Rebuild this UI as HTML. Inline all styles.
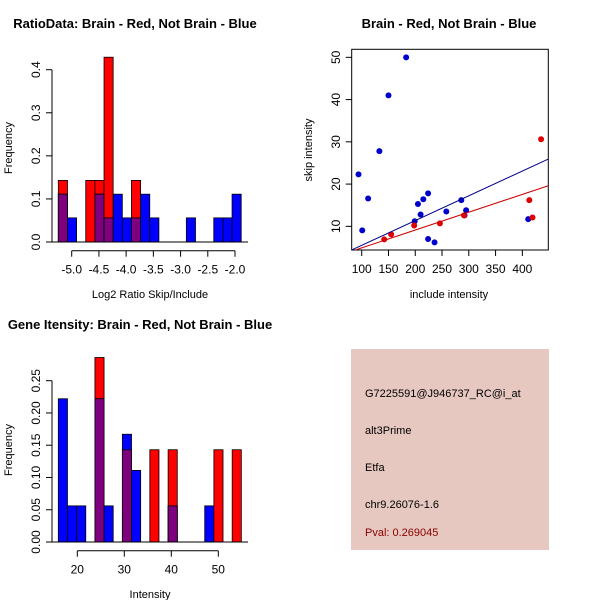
<!DOCTYPE html>
<html><head><meta charset="utf-8"><style>
html,body{margin:0;padding:0;background:#fff;}
svg{display:block;font-family:"Liberation Sans",sans-serif;}
</style></head><body>
<svg id="c" width="600" height="600" viewBox="0 0 600 600">
<rect width="600" height="600" fill="#fff"/>
<text x="135" y="28" text-anchor="middle" font-size="13" font-weight="bold">RatioData: Brain - Red, Not Brain - Blue</text>
<text x="449" y="28" text-anchor="middle" font-size="13" font-weight="bold">Brain - Red, Not Brain - Blue</text>
<text x="140" y="329" text-anchor="middle" font-size="13" font-weight="bold">Gene Itensity: Brain - Red, Not Brain - Blue</text>
<g id="h1"></g>
<g id="h2"></g>
<g id="sc"></g>
<g>
<rect x="351" y="349" width="198" height="201" fill="#E6C8C0"/>
<text x="365" y="397" font-size="11">G7225591@J946737_RC@i_at</text>
<text x="365" y="434" font-size="11">alt3Prime</text>
<text x="365" y="471" font-size="11">Etfa</text>
<text x="365" y="508" font-size="11">chr9.26076-1.6</text>
<text x="365" y="536" font-size="11" fill="#8B0000">Pval: 0.269045</text>
</g>
</svg>
<script>
// Ratio histogram data
const ratioStart = -5.246;
const ratioBinWidth = 0.168;
const ratioRed = [0.143,0,0,0.143,0.143,0.429,0,0,0.143,0,0,0,0,0,0,0,0,0,0,0];
const ratioBlue = [0.111,0.056,0,0,0.111,0.056,0.111,0.056,0.056,0.111,0.056,0,0,0,0.056,0,0,0.056,0.056,0.111];
const ratioXTicks = [-5.0,-4.5,-4.0,-3.5,-3.0,-2.5,-2.0];
const ratioXLabels = ["-5.0","-4.5","-4.0","-3.5","-3.0","-2.5","-2.0"];
const ratioYTicks = ["0.0","0.1","0.2","0.3","0.4"];
// Intensity histogram data
const intStart = 15.96;
const intBinWidth = 1.947;
const intRed = [0,0,0,0,0.286,0,0,0.143,0,0,0.143,0,0.143,0,0,0,0,0.143,0,0.143];
const intBlue = [0.222,0.056,0.056,0,0.222,0.056,0,0.167,0.111,0,0,0,0.056,0,0,0,0.056,0,0,0];
const intXTicks = [20,30,40,50];
const intXLabels = ["20","30","40","50"];
const intYTicks = ["0.00","0.05","0.10","0.15","0.20","0.25"];
// Scatter data
const blueX = [94,101,112,133,150,183,199,205,210,215,224,224,236,258,286,292,295,411];
const blueY = [22.3,9.05,16.6,27.8,41,50,11.2,15.3,12.8,16.4,17.8,7.0,6.2,13.5,16.2,12.6,13.8,11.7];
const redX = [142,155,198,246,291,413,419,435];
const redY = [6.9,8.1,10.2,10.7,12.6,16.2,12.1,30.6];
const blueFit = [-0.36,0.0586];
const redFit = [0.68,0.0422];
const scXTicks = [100,150,200,250,300,350,400];
const scYTicks = [10,20,30,40,50];

const NS="http://www.w3.org/2000/svg";
function mk(p,tag,a){const e=document.createElementNS(NS,tag);for(const k in a)e.setAttribute(k,a[k]);p.appendChild(e);return e;}

function hist(gid,start,bw,red,blue,xt,xlabs,yt,x0,x1pix,xv0,xv1,y0pix,ypix,ymax,xlab,xlabY,ylabY,tickY){
  const g=document.getElementById(gid);
  const sx=v=>x0+(v-xv0)/(xv1-xv0)*(x1pix-x0);
  const sy=v=>y0pix-(v/ymax)*(y0pix-ypix);
  for(let i=0;i<red.length;i++){
    const a=sx(start+i*bw),b=sx(start+(i+1)*bw);
    const r=red[i],bl=blue[i];
    if(r>0){const e=mk(g,'rect',{x:a,y:sy(r),width:b-a,height:sy(0)-sy(r),fill:'#FF0000',stroke:'#000','stroke-width':0.8});
      }
    if(bl>0){const e=mk(g,'rect',{x:a,y:sy(bl),width:b-a,height:sy(0)-sy(bl),fill:'#0000FF',stroke:'#000','stroke-width':0.8});
      }
    const m=Math.min(r,bl);
    if(m>0){const e=mk(g,'rect',{x:a,y:sy(m),width:b-a,height:sy(0)-sy(m),fill:'#7F007F',stroke:'#000','stroke-width':0.8});
      }
  }
  mk(g,'line',{x1:52,x2:248,y1:y0pix,y2:y0pix,stroke:'#000'});
  const yv=yt.map(Number);
  mk(g,'line',{x1:52,x2:52,y1:sy(yv[0]),y2:sy(yv[yv.length-1]),stroke:'#000'});
  yt.forEach((t,i)=>{const y=sy(yv[i]);mk(g,'line',{x1:46,x2:52,y1:y,y2:y,stroke:'#000'});
    const e=mk(g,'text',{x:40,y:y,'font-size':12,'text-anchor':'middle',transform:`rotate(-90 40 ${y})`});e.textContent=t;
    });
  mk(g,'line',{x1:sx(xt[0]),x2:sx(xt[xt.length-1]),y1:tickY,y2:tickY,stroke:'#000'});
  xt.forEach((t,i)=>{const x=sx(t);mk(g,'line',{x1:x,x2:x,y1:tickY,y2:tickY+6,stroke:'#000'});
    const e=mk(g,'text',{x:x,y:tickY+23,'font-size':12,'text-anchor':'middle'});e.textContent=xlabs[i];
    });
  const xl=mk(g,'text',{x:150,y:xlabY,'font-size':11,'text-anchor':'middle'});xl.textContent=xlab;
  
  const yl=mk(g,'text',{x:12,y:ylabY,'font-size':11,'text-anchor':'middle',transform:`rotate(-90 12 ${ylabY})`});yl.textContent='Frequency';
  
}
hist('h1',ratioStart,ratioBinWidth,ratioRed,ratioBlue,ratioXTicks,ratioXLabels,ratioYTicks,71.7,235,-5,-2,242,69.7,0.4,'Log2 Ratio Skip/Include',298,148,250.7);
hist('h2',intStart,intBinWidth,intRed,intBlue,intXTicks,intXLabels,intYTicks,77.3,218.3,20,50,542,380.7,0.25,'Intensity',598,450,550.7);

(function(){
  const g=document.getElementById('sc');
  const L=351.7,R=548.3,T=49.3,B=250;
  const xv0=81.3,xv1=448.5,yv0=4.4,yv1=51.9;
  const sx=v=>L+(v-xv0)/(xv1-xv0)*(R-L);
  const sy=v=>B-(v-yv0)/(yv1-yv0)*(B-T);
  mk(g,'rect',{x:L,y:T,width:R-L,height:B-T,fill:'none',stroke:'#000'});
  scXTicks.forEach(t=>{const x=sx(t);mk(g,'line',{x1:x,x2:x,y1:B,y2:B+6,stroke:'#000'});
    const e=mk(g,'text',{x:x,y:B+23,'font-size':12,'text-anchor':'middle'});e.textContent=t;
    });
  scYTicks.forEach(t=>{const y=sy(t);mk(g,'line',{x1:L-6,x2:L,y1:y,y2:y,stroke:'#000'});
    const e=mk(g,'text',{x:340,y:y,'font-size':12,'text-anchor':'middle',transform:`rotate(-90 340 ${y})`});e.textContent=t;
    });
  const xl=mk(g,'text',{x:449,y:298,'font-size':11,'text-anchor':'middle'});xl.textContent='include intensity';
  
  const yl=mk(g,'text',{x:312,y:150,'font-size':11,'text-anchor':'middle',transform:'rotate(-90 312 150)'});yl.textContent='skip intensity';
  
  const line=(f,col,nm)=>{let xa=xv0,xb=xv1,ya=f[0]+f[1]*xa,yb=f[0]+f[1]*xb;
    if(ya<yv0){xa=(yv0-f[0])/f[1];ya=yv0;}
    const e=mk(g,'line',{x1:sx(xa),y1:sy(ya),x2:sx(xb),y2:sy(yb),stroke:col,'stroke-width':1});
    };
  blueX.forEach((x,i)=>{const e=mk(g,'circle',{cx:sx(x),cy:sy(blueY[i]),r:3,fill:'#0000CD'});
    });
  redX.forEach((x,i)=>{const e=mk(g,'circle',{cx:sx(x),cy:sy(redY[i]),r:3,fill:'#E00000'});
    });
  line(blueFit,'#00008B','blue-fit-line');
  line(redFit,'#CC0000','red-fit-line');
})();
</script>
</body></html>
